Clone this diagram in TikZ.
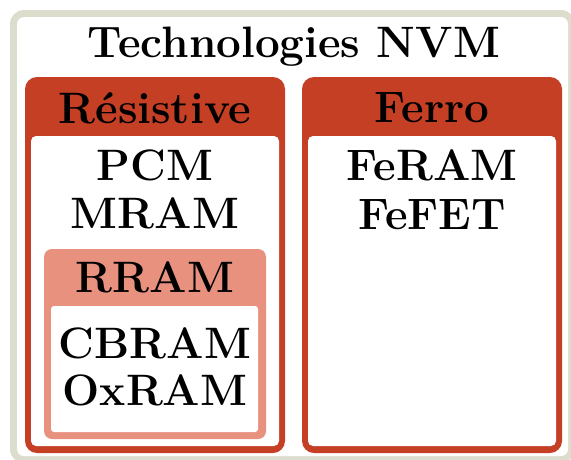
\documentclass[tikz,border=0pt]{standalone}
\usepackage{fontspec}
\definecolor{framegray}{HTML}{DCDDCC}
\definecolor{boxred}{HTML}{C53F25}
\definecolor{boxpink}{HTML}{E8917F}
\tikzset{
  lbl/.style={anchor=base, inner sep=0pt, font=\fontsize{44}{50}\selectfont\bfseries},
}
\begin{document}
\begin{tikzpicture}[x=1pt,y=-1pt]
\useasboundingbox (0,0) rectangle (571,459);

% outer frame
\fill[framegray, rounded corners=14] (10,10) rectangle (575,463);
\fill[white, rounded corners=7] (17,17) rectangle (568,456);
\node[lbl] (title) at (294,57) {Technologies NVM};

% Résistive box
\fill[boxred, rounded corners=12] (25,77) rectangle (285,453);
\fill[white, rounded corners=5] (31,136) rectangle (279,446);
\node[lbl] (res) at (155,123) {Résistive};
\node[lbl] (pcm) at (155,180) {PCM};
\node[lbl] (mram) at (155,228) {MRAM};

% RRAM sub-box
\fill[boxpink, rounded corners=8] (44,249) rectangle (266,439);
\fill[white, rounded corners=3] (51,306) rectangle (258,432);
\node[lbl] (rram) at (155,292) {RRAM};
\node[lbl] (cbram) at (155,358) {CBRAM};
\node[lbl] (oxram) at (155,405) {OxRAM};

% Ferro box
\fill[boxred, rounded corners=12] (302,77) rectangle (562,453);
\fill[white, rounded corners=5] (308,136) rectangle (556,446);
\node[lbl] (ferro) at (432,122) {Ferro};
\node[lbl] (feram) at (432,180) {FeRAM};
\node[lbl] (fefet) at (432,229) {FeFET};
\end{tikzpicture}
\end{document}
